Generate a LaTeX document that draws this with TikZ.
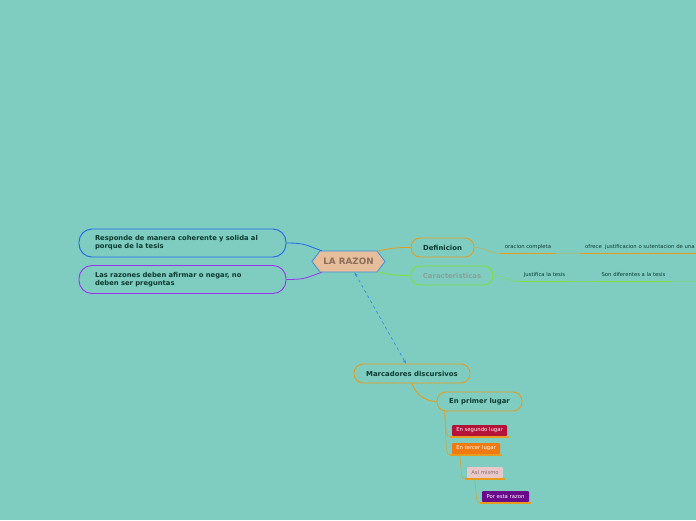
\documentclass[tikz,border=0pt]{standalone}
\usepackage{fontspec}
\setmainfont{DejaVu Sans}
\usetikzlibrary{arrows.meta,shapes.symbols,positioning}

\definecolor{bgmap}{RGB}{126,205,192}
\definecolor{txtdark}{RGB}{12,58,48}
\definecolor{lineblue}{RGB}{34,102,236}
\definecolor{linepurple}{RGB}{153,51,238}
\definecolor{lineorange}{RGB}{232,156,30}
\definecolor{linegreen}{RGB}{127,224,58}
\definecolor{linegold}{RGB}{200,170,80}
\definecolor{dashblue}{RGB}{58,142,224}
\definecolor{razonfill}{RGB}{230,190,156}
\definecolor{razontext}{RGB}{138,110,90}
\definecolor{cartext}{RGB}{143,158,152}
\definecolor{boxcrimson}{RGB}{181,18,58}
\definecolor{boxorange}{RGB}{240,122,16}
\definecolor{boxpink}{RGB}{232,200,200}
\definecolor{boxpinktext}{RGB}{138,106,106}
\definecolor{boxpurple}{RGB}{106,10,138}

\tikzset{
    topic/.style={draw, line width=0.9pt, rounded corners=9pt, minimum height=19pt,
        inner sep=0pt, text=txtdark, font=\bfseries\fontsize{6.9}{8}\selectfont},
    sidebox/.style={topic, rounded corners=13pt, text width=175pt, inner xsep=16pt,
        inner ysep=0pt, minimum width=207pt, minimum height=28pt, align=left,
        font=\bfseries\fontsize{6.8}{8.2}\selectfont},
    leaf/.style={inner sep=0pt, minimum height=12pt, text=txtdark,
        font=\fontsize{5.3}{6}\selectfont},
    tag/.style={rounded corners=1pt, minimum height=11pt, inner sep=0pt, text=white,
        font=\fontsize{5.3}{6}\selectfont},
    twig/.style={linegold, line width=0.7pt}
}

\begin{document}
\begin{tikzpicture}[x=1pt,y=-1pt]
\useasboundingbox (0,0) rectangle (696,520);
\fill[bgmap] (0,0) rectangle (696,520);
\begin{scope}
\clip (0,0) rectangle (696,520);

% central topic
\node[signal, signal to=west and east, signal pointer angle=105, draw=dashblue,
    fill=razonfill, line width=0.8pt, minimum width=73pt, minimum height=21pt,
    inner sep=0pt, text=razontext, font=\bfseries\fontsize{8.8}{9}\selectfont]
    (razon) at (348.5,261.5) {LA RAZON};

% left side
\node[sidebox, draw=lineblue] (coherente) at (182.5,243)
    {Responde de manera coherente y solida al\\porque de la tesis};
\node[sidebox, draw=linepurple] (afirmar) at (182.5,279.5)
    {Las razones deben afirmar o negar, no\\deben ser preguntas};
\draw[lineblue, line width=0.8pt] (razon.158) .. controls +(-15,-5) and +(20,0) .. (coherente.east);
\draw[linepurple, line width=0.8pt] (razon.202) .. controls +(-15,5) and +(20,0) .. (afirmar.east);

% right side
\node[topic, draw=lineorange, minimum width=63pt] (definicion) at (442.5,247.5) {Definicion};
\node[topic, draw=linegreen, minimum width=82pt, text=cartext] (caract) at (452,275.5) {Caracteristicas};
\draw[lineorange, line width=0.8pt] (razon.20) .. controls +(15,-3) and +(-15,0) .. (definicion.west);
\draw[linegreen, line width=0.8pt] (razon.340) .. controls +(15,3) and +(-15,0) .. (caract.west);

\node[leaf, minimum width=56pt] (oracion) at (528,247) {oracion completa};
\node[leaf, anchor=west] (ofrece) at (585,247) {ofrece\ \ justificacion o sutentacion de una};
\coordinate (ofreceini) at (580,253);
\coordinate (ofrecefin) at (700,253);
\draw[lineorange, line width=1pt] (oracion.south west) -- (oracion.south east);
\draw[lineorange, line width=1pt] (ofreceini) -- (ofrecefin);
\draw[lineorange!70!bgmap, line width=0.5pt] (definicion.east) .. controls +(12,0) and +(-12,0) .. (oracion.south west);
\draw[lineorange!70!bgmap, line width=0.5pt] (oracion.south east) -- (ofreceini);

\node[leaf, minimum width=53pt] (justifica) at (544.5,275) {Justifica la tesis};
\node[leaf, minimum width=75pt] (diferentes) at (633.5,275) {Son diferentes a la tesis};
\coordinate (difefin) at (700,281);
\draw[linegreen, line width=1pt] (justifica.south west) -- (justifica.south east);
\draw[linegreen, line width=1pt] (diferentes.south west) -- (diferentes.south east);
\draw[linegreen!70!bgmap, line width=0.5pt] (caract.east) .. controls +(12,0) and +(-12,0) .. (justifica.south west);
\draw[linegreen!70!bgmap, line width=0.5pt] (justifica.south east) -- (diferentes.south west);
\draw[linegreen!70!bgmap, line width=0.5pt] (diferentes.south east) -- (difefin);

% marcadores
\node[topic, draw=lineorange, minimum width=116pt] (marcadores) at (412,373.5) {Marcadores discursivos};
\draw[dashblue, dashed, line width=0.7pt, {Stealth[length=4pt]}-{Stealth[length=4pt]}]
    ([xshift=6pt]razon.south) -- ([xshift=-6pt]marcadores.north);
\node[topic, draw=lineorange, minimum width=85pt] (primer) at (479.5,401.5) {En primer lugar};
\draw[lineorange, line width=0.9pt] (marcadores.south) .. controls +(3,10) and +(-12,0) .. (primer.west);

\node[tag, fill=boxcrimson, minimum width=55pt] (segundo) at (479.5,430.5) {En segundo lugar};
\node[tag, fill=boxorange, minimum width=48pt] (tercero) at (476,448.5) {En tercer lugar};
\node[tag, fill=boxpink, text=boxpinktext, minimum width=36pt] (asimismo) at (485,472.5) {Asi mismo};
\node[tag, fill=boxpurple, minimum width=47pt] (porrazon) at (505.5,496.5) {Por esta razon};
\foreach \t in {segundo,tercero,asimismo,porrazon}
    \draw[lineorange, line width=1.2pt] ([xshift=-2pt,yshift=-0.8pt]\t.south west) -- ([xshift=2pt,yshift=-0.8pt]\t.south east);

\draw[twig] ([xshift=8pt]primer.south west) .. controls +(2,20) and +(-4,0) .. ([xshift=-2pt,yshift=-0.8pt]segundo.south west);
\draw[twig] ([xshift=8pt]primer.south west) .. controls +(2,38) and +(-4,0) .. ([xshift=-2pt,yshift=-0.8pt]tercero.south west);
\draw[twig] ([xshift=8pt,yshift=-0.8pt]tercero.south west) .. controls +(2,20) and +(-4,0) .. ([xshift=-2pt,yshift=-0.8pt]asimismo.south west);
\draw[twig] ([xshift=8pt,yshift=-0.8pt]asimismo.south west) .. controls +(2,20) and +(-4,0) .. ([xshift=-2pt,yshift=-0.8pt]porrazon.south west);
\end{scope}
\end{tikzpicture}
\end{document}
